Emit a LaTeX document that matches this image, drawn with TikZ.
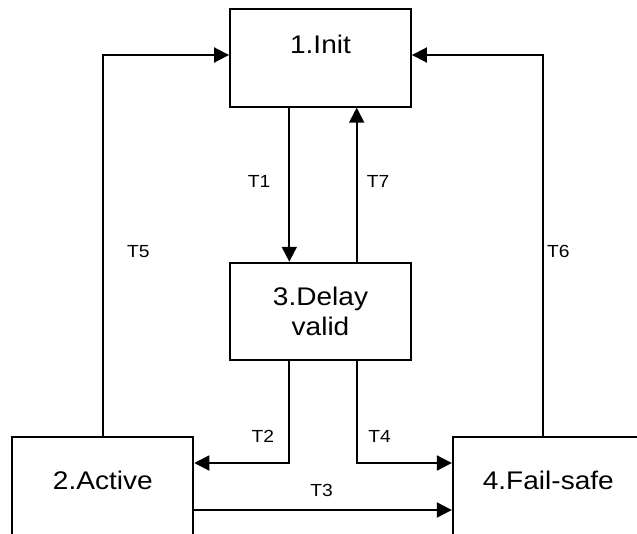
\documentclass[tikz,border=0pt]{standalone}
\usepackage{fontspec}
\setmainfont{Liberation Sans}[FakeStretch=1.1]
\usetikzlibrary{arrows.meta}

\tikzset{
  state/.style={draw, line width=1.9pt, minimum width=181pt, inner sep=0pt, align=center,
    font=\fontsize{25.5pt}{30pt}\selectfont},
  trans/.style={line width=1.9pt, -{Triangle[length=15pt,width=15pt]}},
  tlab/.style={font=\fontsize{17.5pt}{20pt}\selectfont, inner sep=0pt},
}

\begin{document}
\begin{tikzpicture}[x=1pt,y=-1pt]
\clip (0,0) rectangle (637,533); %frame

% states
\node[state, minimum height=97.7pt, text height=18.5pt, text depth=27.6pt] (init) at (320.5,57.85) {1.Init};
\node[state, minimum height=97.3pt] (delay) at (320.5,311.35) {3.Delay\\valid};
\node[state, minimum height=100pt, text height=18.5pt, text depth=13.3pt] (active) at (102.8,486.7) {2.Active};
\node[state, minimum width=191pt, minimum height=100pt, text height=18.5pt, text depth=13.3pt] (failsafe) at (548.3,486.7) {4.Fail-safe};

% transitions
\draw[trans] ([xshift=-31.2pt]init.south) -- ([xshift=-31.2pt]delay.north); %T1
\draw[trans] ([xshift=36.2pt]delay.north) -- ([xshift=36.2pt]init.south); %T7
\draw[trans] ([xshift=-31.2pt]delay.south) |- ([yshift=23.7pt]active.east); %T2
\draw[trans] ([xshift=36.2pt]delay.south) |- ([yshift=23.7pt]failsafe.west); %T4
\draw[trans] ([yshift=-23.3pt]active.east) -- ([yshift=-23.3pt]failsafe.west); %T3
\draw[trans] (active.north) |- ([yshift=2.85pt]init.west); %T5
\draw[trans] ([xshift=-5.6pt]failsafe.north) |- ([yshift=2.85pt]init.east); %T6

% labels
\node[tlab] (t1) at (259.2,181.3) {T1};
\node[tlab] (t7) at (378,181.3) {T7};
\node[tlab] (t5) at (138.3,251.7) {T5};
\node[tlab] (t6) at (558.3,251.7) {T6};
\node[tlab] (t2) at (262.8,436.2) {T2};
\node[tlab] (t4) at (379.5,436.2) {T4};
\node[tlab] (t3) at (321.7,490.8) {T3};
\end{tikzpicture}
\end{document}
